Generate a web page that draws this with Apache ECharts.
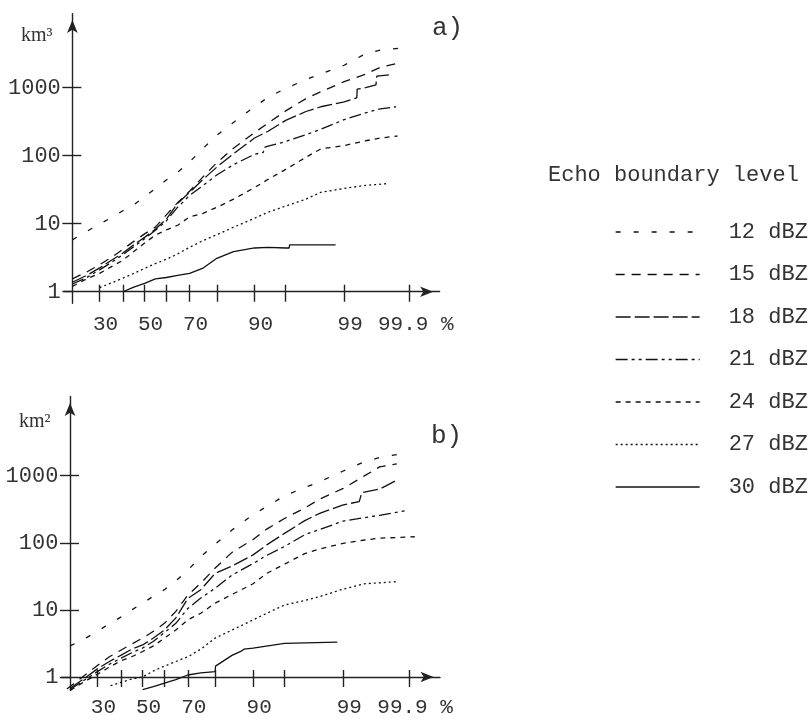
<!DOCTYPE html>
<html><head><meta charset="utf-8">
<script src="https://cdn.jsdelivr.net/npm/echarts@6/dist/echarts.min.js"></script>
<style>html,body{margin:0;padding:0;background:#fff}#c{width:811px;height:719px}</style>
</head><body><div id="c"></div><script>
// ---- tick labels ----
const xTickPercents = [30, 40, 50, 60, 70, 80, 90, 95, 99, 99.9];
const xLabelPercents = [30, 50, 70, 90, 99, 99.9];
const yTickValues = [1, 10, 100, 1000];
const seriesNames = ['12 dBZ', '15 dBZ', '18 dBZ', '21 dBZ', '24 dBZ', '27 dBZ', '30 dBZ'];

// ---- panel a (km^3): [cumulative %, value] ----
const a12 = [[20,5.8],[25,7.7],[30,9.9],[35,12.3],[40,15.5],[45,19],[50,25],[55,33],[60,44],[65,57],[70,81],[75,126],[80,200],[85,309],[90,525],[92.5,724],[95,977],[97,1318],[98,1600],[99,2140],[99.5,3160],[99.7,3590],[99.8,3720],[99.87,3850]];
const a15 = [[20,1.55],[25,1.95],[30,2.5],[35,3.2],[40,4.2],[45,5.5],[50,7.1],[55,8.9],[60,13.5],[65,20.4],[70,30],[75,48],[80,79],[85,129],[90,219],[92.5,302],[95,457],[97,692],[98,871],[99,1230],[99.5,1585],[99.7,1995],[99.84,2290]];
const a18 = [[20,1.38],[25,1.74],[30,2.24],[35,2.9],[40,3.7],[45,4.9],[50,6.3],[55,8.3],[60,11.7],[65,20],[70,29],[75,44],[80,68],[85,107],[90,182],[92.5,229],[95,331],[97,447],[98,525],[99,617],[99.33,708],[99.34,955],[99.5,1000],[99.65,1100],[99.66,1480],[99.78,1550]];
const a21 = [[20,1.3],[25,1.62],[30,2.1],[35,2.7],[40,3.5],[45,4.6],[50,6.0],[55,8.0],[60,11],[65,17.5],[70,26],[75,36],[80,52],[85,74],[90,105],[91.7,112],[91.75,132],[92.5,138],[95,162],[97,204],[98,245],[99,339],[99.5,427],[99.7,490],[99.83,525]];
const a24 = [[20,1.2],[25,1.55],[30,1.86],[35,2.34],[40,2.9],[45,3.9],[50,5.2],[55,6.8],[60,8.1],[65,9.5],[70,12.6],[75,14.1],[80,17.4],[85,23],[90,34],[92.5,45],[95,63],[97,95],[98,126],[99,141],[99.5,166],[99.7,182],[99.84,195]];
const a27 = [[30,1.15],[35,1.35],[40,1.58],[45,1.86],[50,2.2],[55,2.6],[60,3.0],[65,3.6],[70,4.5],[75,5.6],[80,6.9],[85,8.9],[90,12],[92.5,14.8],[95,18.2],[97,23],[98,29],[99,33],[99.5,36.7],[99.78,39]];
const a30 = [[40,1.0],[45,1.17],[50,1.33],[55,1.55],[60,1.62],[65,1.74],[70,1.86],[75,2.2],[80,3.1],[85,3.9],[90,4.4],[92.5,4.5],[95,4.4],[95.4,4.4],[95.45,4.9],[98.7,4.9]];

// ---- panel b (km^2): [cumulative %, value] ----
const b12 = [[20,2.9],[25,3.7],[30,4.8],[35,6.2],[40,7.8],[45,10],[50,12.6],[55,16],[60,20],[65,27],[70,39],[75,62],[80,95],[85,155],[90,263],[92.5,347],[95,500],[97,668],[98,813],[99,1175],[99.5,1620],[99.7,1860],[99.8,1995],[99.88,2140]];
const b15 = [[19,0.66],[25,1.05],[30,1.48],[35,2.0],[40,2.5],[45,3.1],[50,3.8],[55,4.8],[60,6.3],[65,9.5],[70,16.6],[75,25],[80,42],[85,72],[90,112],[92.5,160],[95,230],[97,330],[98,447],[99,646],[99.5,1000],[99.7,1350],[99.84,1500]];
const b18 = [[20,0.68],[25,0.95],[30,1.32],[35,1.7],[40,2.1],[45,2.6],[50,3.0],[55,3.8],[60,5.0],[65,7.6],[70,14.8],[75,20],[80,35],[85,45],[90,66],[92.5,93],[95,138],[97,214],[98,275],[99,367],[99.4,412],[99.45,560],[99.7,631],[99.83,832]];
const b21 = [[20,0.65],[25,0.9],[30,1.2],[35,1.55],[40,1.9],[45,2.3],[50,2.7],[55,3.4],[60,4.6],[65,6.3],[70,10.5],[75,15],[80,21],[85,33],[90,49],[92.5,65],[95,88],[97,132],[98,158],[99,211],[99.5,237],[99.7,257],[99.89,302]];
const b24 = [[20,0.63],[25,0.85],[30,1.1],[35,1.4],[40,1.74],[45,2.0],[50,2.4],[55,2.9],[60,3.8],[65,5.0],[70,7.1],[75,8.9],[80,12.6],[85,17],[90,24.5],[92.5,35],[95,48],[97,69],[98,81],[99,98],[99.5,110],[99.7,117],[99.92,123]];
const b27 = [[35.5,0.74],[40,0.83],[45,0.93],[50,1.0],[55,1.23],[60,1.45],[65,1.7],[70,2.0],[75,2.6],[80,3.8],[85,5.0],[90,7.1],[92.5,8.9],[95,11.8],[97,13.8],[98,15.8],[99,20.4],[99.5,24.5],[99.84,26.3]];
const b30 = [[50,0.65],[55,0.72],[60,0.81],[65,0.91],[70,1.07],[75,1.15],[80,1.2],[80.1,1.45],[85,2.1],[87.5,2.45],[88,2.6],[90,2.7],[95,3.16],[98.8,3.3]];

const panelA = [a12, a15, a18, a21, a24, a27, a30];
const panelB = [b12, b15, b18, b21, b24, b27, b30];

// ---- normal probability (probit) scale ----
function probit(p) {
  const a=[-3.969683028665376e+01,2.209460984245205e+02,-2.759285104469687e+02,1.383577518672690e+02,-3.066479806614716e+01,2.506628277459239e+00];
  const b=[-5.447609879822406e+01,1.615858368580409e+02,-1.556989798598866e+02,6.680131188771972e+01,-1.328068155288572e+01];
  const c=[-7.784894002430293e-03,-3.223964580411365e-01,-2.400758277161838e+00,-2.549732539343734e+00,4.374664141464968e+00,2.938163982698783e+00];
  const d=[7.784695709041462e-03,3.224671290700398e-01,2.445134137142996e+00,3.754408661907416e+00];
  const pl=0.02425, ph=1-pl; let q, r;
  if (p < pl) { q=Math.sqrt(-2*Math.log(p)); return (((((c[0]*q+c[1])*q+c[2])*q+c[3])*q+c[4])*q+c[5])/((((d[0]*q+d[1])*q+d[2])*q+d[3])*q+1); }
  if (p <= ph) { q=p-0.5; r=q*q; return (((((a[0]*r+a[1])*r+a[2])*r+a[3])*r+a[4])*r+a[5])*q/(((((b[0]*r+b[1])*r+b[2])*r+b[3])*r+b[4])*r+1); }
  q=Math.sqrt(-2*Math.log(1-p)); return -(((((c[0]*q+c[1])*q+c[2])*q+c[3])*q+c[4])*q+c[5])/((((d[0]*q+d[1])*q+d[2])*q+d[3])*q+1);
}
const X0 = probit(0.2);               // axis origin at 20 %
const px = p => probit(p / 100) - X0;
const toPt = ([p, v]) => [px(p), Math.log10(v)];

const FONT = 'Liberation Mono';
const INK = '#222';
const TXT = '#333';
const dashes = [[5,13],[9,7],[15,4],[12,4,3,4,3,4],[5,5],[2,3],'solid'];

const xTicks = xTickPercents.map(px);
const xLabels = xLabelPercents.map(px);
const yTicksLog = yTickValues.map(v => Math.log10(v));
const xFmt = v => {
  let best = xLabelPercents[0];
  xLabelPercents.forEach(p => { if (Math.abs(px(p) - v) < Math.abs(px(best) - v)) best = p; });
  return best === 99.9 ? '99.9 %' : String(best);
};

const grids = [
  { left: 63.8, top: 13.6, width: 375.8, height: 289.7, ymin: -0.17, ymax: 4.09, xmax: 4.28, lm: 11 },
  { left: 61.4, top: 396.5, width: 378.6, height: 293.9, ymin: -0.2, ymax: 4.18, xmax: 4.29, lm: 7 }
];
const axisLineStyle = { color: INK, width: 1.4 };
const xAxes = [], yAxes = [], series = [];
grids.forEach((g, gi) => {
  xAxes.push({
    gridIndex: gi, type: 'value', min: -0.1, max: g.xmax, position: 'bottom',
    axisLine: { onZero: true, onZeroAxisIndex: 2*gi, symbol: ['none','arrow'], symbolSize: [8,13], symbolOffset: [0,-6.5], lineStyle: axisLineStyle },
    axisTick: { customValues: xTicks, inside: false, length: 10, lineStyle: axisLineStyle },
    axisLabel: { customValues: xLabels, formatter: xFmt, margin: g.lm, fontFamily: FONT, fontSize: 21, color: TXT, padding: [0,0,0,12] },
    splitLine: { show: false }
  });
  xAxes.push({
    gridIndex: gi, type: 'value', min: -0.1, max: g.xmax, position: 'bottom',
    axisLine: { show: false, onZero: true, onZeroAxisIndex: 2*gi },
    axisTick: { customValues: xTicks, inside: true, length: 7, lineStyle: axisLineStyle },
    axisLabel: { show: false }, splitLine: { show: false }
  });
  yAxes.push({
    gridIndex: gi, type: 'value', min: g.ymin, max: g.ymax, position: 'left',
    axisLine: { onZero: true, onZeroAxisIndex: 2*gi, symbol: ['none','arrow'], symbolSize: [8,13], symbolOffset: [0,-6.5], lineStyle: axisLineStyle },
    axisTick: { customValues: yTicksLog, inside: false, length: 10, lineStyle: axisLineStyle },
    axisLabel: { customValues: yTicksLog, formatter: v => String(Math.round(Math.pow(10, v))), margin: 3, fontFamily: FONT, fontSize: 22, color: TXT },
    splitLine: { show: false }
  });
  yAxes.push({
    gridIndex: gi, type: 'value', min: g.ymin, max: g.ymax, position: 'left',
    axisLine: { show: false, onZero: true, onZeroAxisIndex: 2*gi },
    axisTick: { customValues: yTicksLog.slice(1), inside: true, length: 9, lineStyle: axisLineStyle },
    axisLabel: { show: false }, splitLine: { show: false }
  });
  const panel = gi === 0 ? panelA : panelB;
  panel.forEach((arr, si) => {
    series.push({
      name: seriesNames[si], type: 'line', xAxisIndex: 2*gi, yAxisIndex: 2*gi,
      data: arr.map(toPt), symbol: 'none', showSymbol: false, clip: false, animation: false,
      lineStyle: { color: '#111', width: 1.3, type: dashes[si] }
    });
  });
});

const chart = echarts.init(document.getElementById('c'), null, { renderer: 'canvas' });
chart.setOption({
  backgroundColor: '#fff',
  animation: false,
  grid: grids.map(g => ({ left: g.left, top: g.top, width: g.width, height: g.height, containLabel: false, outerBoundsMode: 'none' })),
  title: [
    { text: 'km³', left: 21, top: 26, padding: 0, textStyle: { fontFamily: 'Liberation Serif', fontSize: 20, fontWeight: 'normal', color: TXT } },
    { text: 'km²', left: 19, top: 412, padding: 0, textStyle: { fontFamily: 'Liberation Serif', fontSize: 20, fontWeight: 'normal', color: TXT } },
    { text: 'a)', left: 432, top: 15, padding: 0, textStyle: { fontFamily: FONT, fontSize: 26, fontWeight: 'normal', color: TXT } },
    { text: 'b)', left: 431, top: 423, padding: 0, textStyle: { fontFamily: FONT, fontSize: 26, fontWeight: 'normal', color: TXT } },
    { text: 'Echo boundary level', left: 548, top: 164, padding: 0, textStyle: { fontFamily: FONT, fontSize: 22, fontWeight: 'normal', color: TXT } }
  ],
  legend: {
    data: seriesNames, orient: 'vertical', left: 615, top: 221, padding: 0,
    itemWidth: 84, itemHeight: 22, itemGap: 20.5, selectedMode: false,
    itemStyle: { opacity: 0 },
    lineStyle: { width: 1.3 },
    textStyle: { fontFamily: FONT, fontSize: 22, color: TXT, lineHeight: 22, padding: [0,0,0,24] }
  },
  xAxis: xAxes,
  yAxis: yAxes,
  series: series
});
</script></body></html>
